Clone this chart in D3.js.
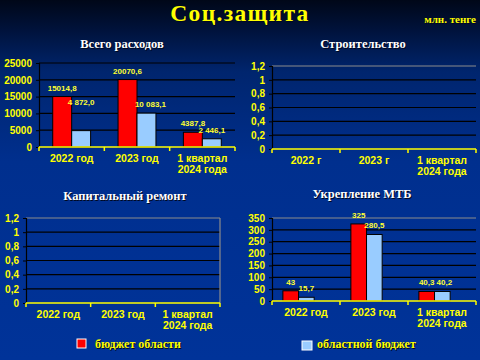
<!DOCTYPE html>
<html><head><meta charset="utf-8">
<script src="https://cdn.jsdelivr.net/npm/d3@7"></script>
<style>html,body{margin:0;padding:0;background:#003399;}svg{display:block;}</style>
</head><body>
<script>
// ---- data ----
const catsYear = ["2022 год", "2023 год", "1 квартал|2024 года"];
const catsG = ["2022 г", "2023 г", "1 квартал|2024 года"];
const seriesNames = ["бюджет области", "областной бюджет"];

const totalRegion = [15014.8, 20070.8, 4387.8];
const totalOblast = [4872.0, 10083.1, 2446.1];
const totalRegionLbl = ["15014,8", "20070,6", "4387,8"];
const totalOblastLbl = ["4 872,0", "10 083,1", "2 446,1"];

const mtbRegion = [43, 325, 40.3];
const mtbOblast = [15.7, 280.5, 40.2];
const mtbRegionLbl = ["43", "325", "40,3"];
const mtbOblastLbl = ["15,7", "280,5", "40,2"];

const ticksTotal = [0, 5000, 10000, 15000, 20000, 25000];
const ticksEmpty = [0, 0.2, 0.4, 0.6, 0.8, 1, 1.2];
const ticksMtb = [0, 50, 100, 150, 200, 250, 300, 350];

// ---- layout ----
const W = 480, H = 360;
const colors = ["#ff0000", "#99ccff"];
const svg = d3.select("body").append("svg").attr("width", W).attr("height", H);
const defs = svg.append("defs");
const g = defs.append("linearGradient").attr("id", "bg").attr("x1", 0).attr("y1", 0).attr("x2", 0).attr("y2", 1);
[[0, "#000718"], [0.08, "#00123a"], [0.2, "#00256e"], [0.45, "#002f8e"], [1, "#003399"]]
  .forEach(([o, c]) => g.append("stop").attr("offset", o).attr("stop-color", c));
svg.append("rect").attr("width", W).attr("height", H).attr("fill", "url(#bg)");

function shadowText(x, y, txt, size, fill, anchor, ls) {
  [[1, "#000820"], [0, fill]].forEach(([off, c]) => {
    svg.append("text").attr("x", x + off).attr("y", y + off).attr("text-anchor", anchor || "middle")
      .attr("font-family", "Liberation Serif, serif").attr("font-weight", "bold")
      .attr("letter-spacing", ls || 0)
      .attr("font-size", size).attr("fill", c).text(txt);
  });
}

shadowText(240, 21, "Соц.защита", 23.5, "#ffff00", "middle", 1.3);
shadowText(476, 23, "млн. тенге", 11, "#ffff00", "end");

const comma = v => String(v).replace(".", ",");

function chart(o) {
  const x = d3.scaleBand().domain(o.cats).range([o.left, o.right]);
  const y = d3.scaleLinear().domain([0, o.max]).range([o.bottom, o.top]);
  const ch = svg.append("g");
  // gridlines
  ch.selectAll(".grid").data(o.ticks.slice(1)).enter().append("line")
    .attr("x1", o.left).attr("x2", o.right)
    .attr("y1", d => y(d)).attr("y2", d => y(d))
    .attr("stroke", (d, i) => (i === o.ticks.length - 2 && o.grayTop) ? "#8c8c8c" : "#000")
    .attr("stroke-width", 1.2);
  if (o.grayRight) ch.append("line").attr("x1", o.right).attr("x2", o.right)
    .attr("y1", o.top).attr("y2", o.bottom).attr("stroke", "#8c8c8c").attr("stroke-width", 1.2);
  // y axis
  const ya = ch.append("g").attr("transform", `translate(${o.left},0)`)
    .call(d3.axisLeft(y).tickValues(o.ticks).tickSize(3).tickPadding(4).tickFormat(comma));
  ya.select(".domain").attr("stroke", "#000").attr("stroke-width", 1.2);
  ya.selectAll(".tick line").attr("stroke", "#000");
  ya.selectAll("text").attr("fill", "#ffff00").attr("font-family", "Liberation Sans, Arial, sans-serif")
    .attr("font-weight", "bold").attr("font-size", 10);
  // bars
  if (o.series) {
    const bw = x.bandwidth() * o.barFrac;
    o.series.forEach((vals, si) => {
      ch.selectAll(".b" + si).data(vals).enter().append("rect")
        .attr("x", (d, i) => x(o.cats[i]) + x.bandwidth() / 2 + o.shift * x.bandwidth() + (si - 1) * bw)
        .attr("y", d => y(d)).attr("width", bw).attr("height", d => o.bottom - y(d))
        .attr("fill", colors[si]).attr("stroke", "#000").attr("stroke-width", 1);
    });
    o.series.forEach((vals, si) => {
      ch.selectAll(".l" + si).data(vals).enter().append("text")
        .attr("x", (d, i) => x(o.cats[i]) + x.bandwidth() / 2 + o.shift * x.bandwidth() + (si - 0.5) * bw + o.ldx[si][i])
        .attr("y", (d, i) => y(d) - 6 + o.ldy[si][i])
        .attr("text-anchor", "middle").attr("fill", "#ffff33")
        .attr("font-family", "Liberation Sans, Arial, sans-serif").attr("font-weight", "bold").attr("font-size", 8)
        .text((d, i) => o.labels[si][i]);
    });
  }
  // x axis
  ch.append("line").attr("x1", o.left).attr("x2", o.right).attr("y1", o.bottom).attr("y2", o.bottom)
    .attr("stroke", "#ffff00").attr("stroke-width", 1.5);
  const bounds = o.cats.map(c => x(c)).concat([o.right]);
  ch.selectAll(".xt").data(bounds).enter().append("line")
    .attr("x1", d => d).attr("x2", d => d).attr("y1", o.bottom).attr("y2", o.bottom + 4)
    .attr("stroke", "#ffff00").attr("stroke-width", 1.5);
  o.cats.forEach(c => {
    const lines = c.split("|");
    const t = ch.append("text").attr("text-anchor", "middle").attr("fill", "#ffff00")
      .attr("font-family", "Liberation Sans, Arial, sans-serif").attr("font-weight", "bold").attr("font-size", 10.5);
    lines.forEach((ln, li) => t.append("tspan").attr("x", x(c) + x.bandwidth() / 2)
      .attr("y", o.bottom + 15 + li * 11).text(ln));
  });
  shadowText(o.titleX, o.titleY, o.title, 12.5, "#ffffff");
}

chart({ cats: catsYear, left: 39, right: 235, top: 63, bottom: 147, max: 25000, ticks: ticksTotal,
  series: [totalRegion, totalOblast], labels: [totalRegionLbl, totalOblastLbl], barFrac: 0.29, shift: 0,
  ldx: [[0, 0, 0], [0, 4, 0]], ldy: [[0, 0, 0], [-20, 0, 0]],
  title: "Всего расходов", titleX: 122, titleY: 48, grayTop: false });

chart({ cats: catsG, left: 272, right: 476, top: 66, bottom: 149, max: 1.2, ticks: ticksEmpty,
  title: "Строительство", titleX: 363, titleY: 48, grayTop: true });

chart({ cats: catsYear, left: 26, right: 220, top: 218, bottom: 303, max: 1.2, ticks: ticksEmpty,
  title: "Капитальный ремонт", titleX: 125, titleY: 200, grayTop: true, grayRight: true });

chart({ cats: catsYear, left: 272, right: 476, top: 218, bottom: 301, max: 350, ticks: ticksMtb,
  series: [mtbRegion, mtbOblast], labels: [mtbRegionLbl, mtbOblastLbl], barFrac: 0.23, shift: -0.11,
  ldx: [[0, 0, 0], [0, 0, 2]], ldy: [[0, 0, 0], [0, 0, 0]],
  title: "Укрепление МТБ", titleX: 362, titleY: 198, grayTop: true });

// legend
svg.append("rect").attr("x", 77).attr("y", 339).attr("width", 9).attr("height", 9)
  .attr("fill", colors[0]).attr("stroke", "#ffffff").attr("stroke-width", 1);
shadowText(95, 348, seriesNames[0], 12, "#ffff00", "start");
svg.append("rect").attr("x", 302).attr("y", 341).attr("width", 10).attr("height", 9)
  .attr("fill", colors[1]).attr("stroke", "#ffffff").attr("stroke-width", 1);
shadowText(317, 348, seriesNames[1], 12, "#ffff00", "start");
</script>
</body></html>
